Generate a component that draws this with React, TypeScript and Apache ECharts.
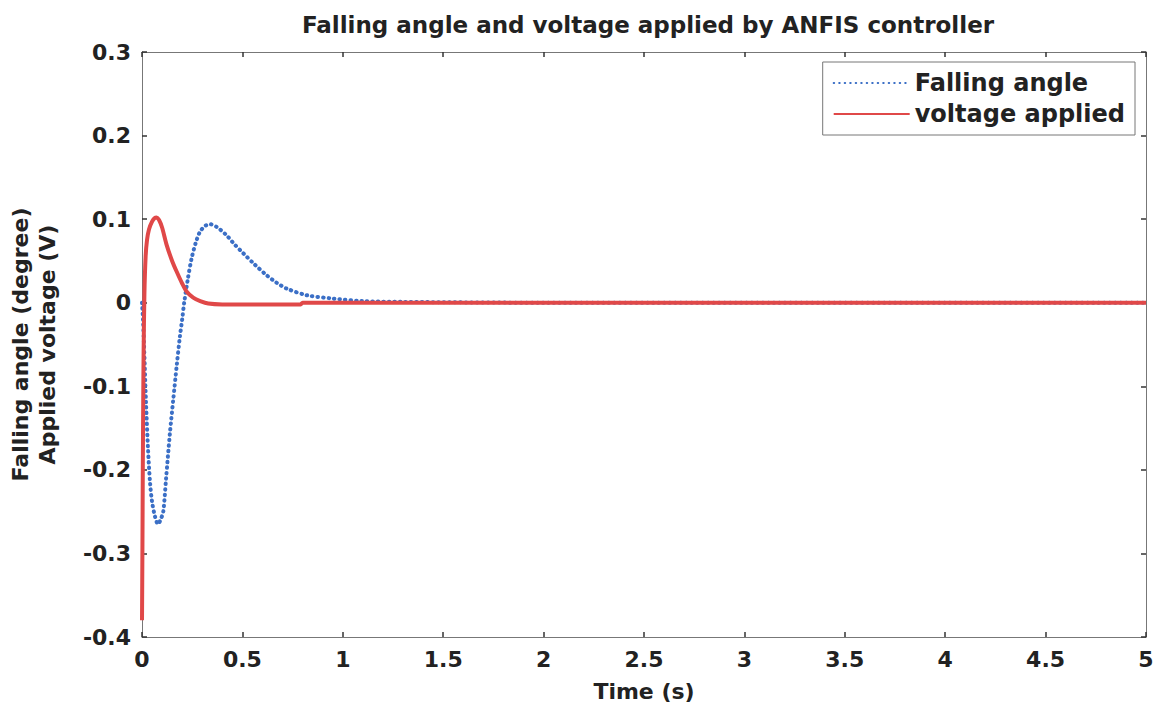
import React, { useEffect, useRef } from "react";
import * as echarts from "echarts";

const title = "Falling angle and voltage applied by ANFIS controller";
const xTicks = [0, 0.5, 1, 1.5, 2, 2.5, 3, 3.5, 4, 4.5, 5];
const yTicks = [-0.4, -0.3, -0.2, -0.1, 0, 0.1, 0.2, 0.3];

const angleT = [0, 0.005, 0.01, 0.02, 0.03, 0.04, 0.05, 0.065, 0.08, 0.095, 0.106, 0.12, 0.139, 0.156, 0.173, 0.189, 0.2, 0.21, 0.228, 0.247, 0.268, 0.289, 0.315, 0.339, 0.37, 0.42, 0.46, 0.505, 0.56, 0.62, 0.67, 0.72, 0.82, 0.95, 1.1, 1.3, 2, 3, 4, 5];
const angleV = [0, -0.02, -0.05, -0.12, -0.175, -0.215, -0.238, -0.256, -0.265, -0.258, -0.25, -0.21, -0.156, -0.115, -0.075, -0.04, -0.02, 0, 0.028, 0.053, 0.072, 0.085, 0.092, 0.094, 0.091, 0.081, 0.07, 0.059, 0.046, 0.033, 0.024, 0.017, 0.009, 0.005, 0.002, 0.001, 0, 0, 0, 0];

const voltT = [0, 0.002, 0.004, 0.006, 0.008, 0.012, 0.018, 0.025, 0.035, 0.05, 0.062, 0.073, 0.085, 0.1, 0.123, 0.15, 0.173, 0.2, 0.223, 0.255, 0.29, 0.33, 0.4, 0.6, 0.79, 0.8, 1.5, 3, 5];
const voltV = [-0.38, -0.3, -0.2, -0.12, -0.06, 0.01, 0.055, 0.075, 0.088, 0.097, 0.101, 0.102, 0.099, 0.09, 0.069, 0.05, 0.037, 0.023, 0.013, 0.006, 0.002, -0.001, -0.002, -0.002, -0.002, 0, 0, 0, 0];

const pairs = (t: number[], v: number[]) => t.map((x, i) => [x, v[i]]);

export default function App() {
  const ref = useRef<HTMLDivElement>(null);
  useEffect(() => {
    const chart = echarts.init(ref.current!, null, { renderer: "svg" });
    const font = "'DejaVu Sans', Arial, sans-serif";
    const tickLabel = { fontFamily: font, fontWeight: "bold" as const, fontSize: 22, color: "#222" };
    const axisLine = { show: true, onZero: false, lineStyle: { color: "#777", width: 1 } };
    const axisTick = { show: true, inside: true, length: 5, lineStyle: { color: "#333", width: 1.5 } };
    chart.setOption({
      animation: false,
      backgroundColor: "#fff",
      title: {
        text: title,
        left: 643,
        textAlign: "center",
        top: 8,
        textStyle: { fontFamily: font, fontWeight: "bold", fontSize: 23, color: "#222" },
      },
      grid: { left: 142, right: 14, top: 52, bottom: 71, outerBoundsMode: "none" },
      legend: {
        right: 25,
        top: 62,
        orient: "vertical",
        backgroundColor: "#fff",
        borderColor: "#777",
        borderWidth: 1,
        padding: [9, 10, 9, 10],
        itemGap: 7,
        itemWidth: 76,
        itemHeight: 14,
        itemStyle: { opacity: 0 },
        textStyle: { fontFamily: font, fontWeight: "bold", fontSize: 24, color: "#222" },
        data: ["Falling angle", "voltage applied"],
      },
      xAxis: [
        {
          type: "value",
          min: 0,
          max: 5,
          interval: 0.5,
          name: "Time (s)",
          nameLocation: "middle",
          nameGap: 43,
          nameTextStyle: { fontFamily: font, fontWeight: "bold", fontSize: 22, color: "#222" },
          axisLine,
          axisTick,
          axisLabel: { ...tickLabel, margin: 11 },
          splitLine: { show: false },
        },
        {
          type: "value",
          position: "top",
          min: 0,
          max: 5,
          interval: 0.5,
          axisLine,
          axisTick,
          axisLabel: { show: false },
          splitLine: { show: false },
        },
      ],
      yAxis: [
        {
          type: "value",
          min: -0.4,
          max: 0.3,
          interval: 0.1,
          name: "Falling angle (degree)\nApplied voltage (V)",
          nameLocation: "middle",
          nameRotate: 90,
          nameGap: 81,
          nameTextStyle: { fontFamily: font, fontWeight: "bold", fontSize: 22, color: "#222", lineHeight: 27 },
          axisLine,
          axisTick,
          axisLabel: {
            ...tickLabel,
            margin: 11,
            formatter: (v: number) => {
              const r = Math.round(v * 10) / 10;
              return r === 0 ? "0" : String(r);
            },
          },
          splitLine: { show: false },
        },
        {
          type: "value",
          position: "right",
          min: -0.4,
          max: 0.3,
          interval: 0.1,
          axisLine,
          axisTick,
          axisLabel: { show: false },
          splitLine: { show: false },
        },
      ],
      series: [
        {
          name: "Falling angle",
          type: "line",
          data: pairs(angleT, angleV),
          smooth: 0.3,
          showSymbol: false,
          symbol: "none",
          lineStyle: { color: "#3b6fc6", width: 4, type: [0.5, 5], cap: "round" },
          itemStyle: { color: "#3b6fc6" },
          z: 2,
        },
        {
          name: "voltage applied",
          type: "line",
          data: pairs(voltT, voltV),
          smooth: 0.3,
          showSymbol: false,
          symbol: "none",
          lineStyle: { color: "#e04848", width: 4 },
          itemStyle: { color: "#e04848" },
          z: 3,
        },
      ],
    });
    return () => chart.dispose();
  }, []);
  return <div ref={ref} style={{ width: 1160, height: 708, position: "absolute", left: 0, top: 0 }} />;
}
